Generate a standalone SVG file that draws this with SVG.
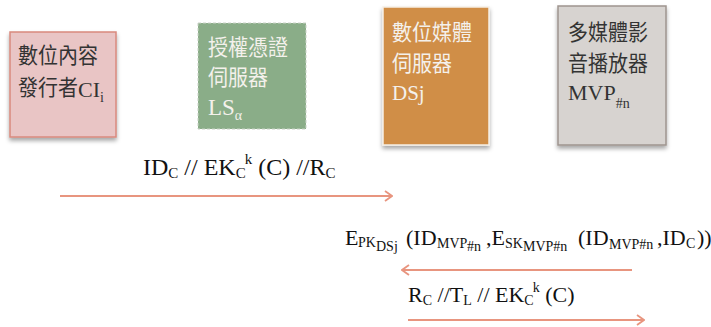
<svg xmlns="http://www.w3.org/2000/svg" width="711" height="327" viewBox="0 0 711 327">
<defs>
<style>
.t{font-family:"Liberation Serif","Noto Sans CJK TC",serif;font-size:22px}
.cjk{font-family:"Noto Sans CJK TC","Liberation Serif",serif;font-size:20px}
.dark{fill:#333}
.light{fill:#f4f1ec}
.lbl{font-family:"Liberation Serif","Noto Sans CJK TC",serif;font-size:22px;fill:#111}
.s{font-size:14px}
.conn{stroke:#e8957f;stroke-width:2;fill:none}
</style>
<filter id="sh" x="-10%" y="-10%" width="130%" height="130%">
<feDropShadow dx="0" dy="3" stdDeviation="2" flood-color="#000" flood-opacity="0.35"/>
</filter>
<marker id="ah" viewBox="0 0 10 12" refX="9" refY="6" markerWidth="10" markerHeight="12" markerUnits="userSpaceOnUse" orient="auto">
<path d="M2,1 L9,6 L2,11" fill="none" stroke="#e8957f" stroke-width="1.8"/>
</marker>
</defs>
<g id="node-ci">
<rect x="10" y="32" width="106" height="105" fill="#e9c5c5" stroke="#d9897e" stroke-width="1.5" filter="url(#sh)"/>
<text class="cjk dark" transform="translate(18,63) scale(1,1.08)">數位內容</text>
<text class="cjk dark" transform="translate(18,95) scale(1,1.08)">發行者</text>
<text class="t dark" x="78" y="97">CI<tspan class="s" y="102">i</tspan></text>
</g>
<g id="node-ls">
<rect x="198" y="23" width="108" height="106" fill="#8aad88" stroke="#c9d2c6" stroke-width="1" stroke-dasharray="3,2"/>
<text class="cjk light" transform="translate(208,55) scale(1,1.08)">授權憑證</text>
<text class="cjk light" transform="translate(208,85) scale(1,1.08)">伺服器</text>
<text class="t light" x="208" y="115" style="font-size:23px">LS<tspan class="s" y="120">α</tspan></text>
</g>
<g id="node-ds">
<rect x="383" y="7" width="106" height="138" fill="#d08e47" stroke="#f6efe6" stroke-width="1.5" filter="url(#sh)"/>
<text class="cjk light" transform="translate(392,40) scale(1,1.08)">數位媒體</text>
<text class="cjk light" transform="translate(392,71) scale(1,1.08)">伺服器</text>
<text class="t light" x="392" y="100" style="font-size:21px">DSj</text>
</g>
<g id="node-mvp">
<rect x="558" y="6" width="108" height="139" fill="#d7d3d0" stroke="#9e958f" stroke-width="1.5" filter="url(#sh)"/>
<text class="cjk dark" transform="translate(568,40) scale(1,1.08)">多媒體影</text>
<text class="cjk dark" transform="translate(568,71) scale(1,1.08)">音播放器</text>
<text class="t dark" x="568" y="100">MVP<tspan class="s" y="108">#n</tspan></text>
</g>
<g id="connectors">
<line class="conn" x1="60" y1="196" x2="392" y2="196" marker-end="url(#ah)"/>
<line class="conn" x1="632" y1="270" x2="402" y2="270" marker-end="url(#ah)"/>
<line class="conn" x1="408" y1="320" x2="644" y2="320" marker-end="url(#ah)"/>
</g>
<g id="labels">
<text class="lbl" x="143" y="175" style="font-size:24px">ID<tspan class="s" style="font-size:15px" y="178">C</tspan><tspan y="175"> // EK</tspan><tspan class="s" style="font-size:15px" y="178">C</tspan><tspan class="s" style="font-size:15px" dx="-1" y="164">k</tspan><tspan y="175"> (C) //R</tspan><tspan class="s" style="font-size:15px" y="178">C</tspan></text>
<text class="lbl" y="245"><tspan x="345">E</tspan><tspan class="s" x="358" y="247">PK</tspan><tspan class="s" x="376" y="251">DSj</tspan><tspan x="406" y="245">(ID</tspan><tspan class="s" x="437" y="248">MVP</tspan><tspan class="s" x="467" y="251">#n</tspan><tspan x="486" y="245">,E</tspan><tspan class="s" x="505" y="248">SK</tspan><tspan class="s" x="523" y="251">MVP#n</tspan><tspan x="578" y="245">(ID</tspan><tspan class="s" x="609" y="249">MVP#n</tspan><tspan x="657" y="245">,ID</tspan><tspan class="s" x="686" y="248">C</tspan><tspan x="697" y="245">))</tspan></text>
<text class="lbl" x="408" y="302">R<tspan class="s" y="305">C</tspan><tspan y="302"> //T</tspan><tspan class="s" y="305">L</tspan><tspan y="302"> // EK</tspan><tspan class="s" y="305">C</tspan><tspan class="s" dx="-1" y="292">k</tspan><tspan y="302"> (C)</tspan></text>
</g>
</svg>
